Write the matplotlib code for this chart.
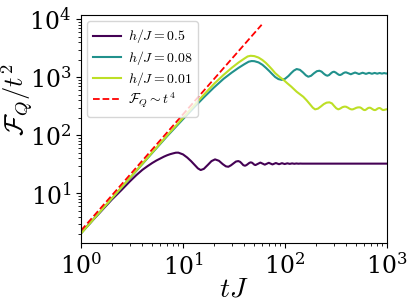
import matplotlib
matplotlib.use("Agg")
import matplotlib.pyplot as plt

plt.rcParams['mathtext.fontset'] = 'cm'
plt.rcParams['font.family'] = ['DejaVu Serif']

labels = ["$h/J=0.5$", "$h/J=0.08$", "$h/J=0.01$"]
red_label = r"$\mathcal{F}_Q\sim t^4$"

# h/J = 0.5 (purple)
t_a = [1, 1.3, 1.6, 2, 2.5, 3, 3.5, 4, 4.5, 5, 5.5, 6, 6.5, 7, 7.5, 8, 8.5, 9, 10,
       11, 12, 13, 14, 14.9, 16, 17.5, 19, 20.6, 22.5, 24.5, 26.3, 27.8, 29.5, 31.3, 33,
       34.8, 36.3, 37.7, 39, 40.5, 41.9, 43.3, 44.7, 46.1, 47.5, 48.8, 50, 51.3, 54.3,
       57.3, 60.3, 63.3, 66.3, 69.3, 72.3, 75.3, 78.3, 81.3, 84.3, 87.3, 90.3, 93.3, 96.3,
       99.3, 105.3, 111.3, 117.3, 123.3, 129.3, 135.3, 141.3, 147, 1000]
v_a = [2.08, 3.45, 5.1, 7.8, 11.5, 16, 20.8, 25.5, 29.6, 33.5, 37, 40, 43, 45.5, 47.5, 49, 50.3, 50.4, 47,
       41.5, 36, 31, 27, 25.3, 26.5, 31, 36, 38.6, 36.5, 32, 29.3, 28.8, 30.5, 33, 35.4,
       36.1, 35, 32.8, 30.7, 30.0, 30.8, 32.2, 33.6, 34.3, 33.8, 32.5, 31.3, 30.8, 32.4,
       34.0, 32.6, 31.3, 32.5, 33.7, 32.6, 31.6, 32.5, 33.4, 32.6, 31.9, 32.5, 33.2, 32.6,
       32.1, 33.0, 32.3, 32.9, 32.4, 32.8, 32.5, 32.7, 32.6, 32.6]

# h/J = 0.08 (teal)
t_b = [1, 2, 3, 5, 7, 10, 13, 16, 20, 25, 30, 35, 40, 44, 47, 50, 55, 60, 65, 70, 75,
       80, 86, 93, 100, 108, 115, 122, 130, 140, 150, 160, 169, 180, 192, 205, 217, 228,
       240, 250, 260, 270, 282, 292, 302, 314, 325, 336, 346, 359, 371, 384, 396, 418,
       441, 463, 486, 508, 531, 553, 576, 598, 621, 666, 711, 756, 801, 846, 891, 936,
       981, 1000]
v_b = [2.05, 8.1, 18.2, 50, 97, 190, 310, 450, 660, 940, 1200, 1450, 1680, 1850, 1900, 1890,
       1800, 1640, 1450, 1280, 1130, 1010, 930, 900, 940, 1050, 1180, 1300, 1384, 1340, 1210,
       1080, 1020, 1060, 1170, 1270, 1294, 1250, 1150, 1090, 1062, 1090, 1170, 1225, 1244,
       1205, 1150, 1105, 1091, 1120, 1170, 1205, 1214, 1170, 1125, 1165, 1205, 1170, 1135,
       1165, 1195, 1170, 1142, 1190, 1148, 1186, 1152, 1183, 1155, 1180, 1158, 1163]

# h/J = 0.01 (yellow-green)
t_c = [1, 2, 3, 5, 7, 10, 13, 16, 20, 25, 30, 35, 40, 43, 46, 50, 55, 60, 65, 70, 75,
       80, 88, 96, 105, 115, 130, 140, 151, 163, 175, 187, 197, 210, 225, 240, 255, 272,
       288, 303, 318, 333, 349, 365, 381, 396, 413, 430, 446, 461, 480, 500, 520, 543,
       560, 577, 592, 608, 627, 645, 663, 681, 700, 720, 742, 763, 785, 805, 828, 850,
       870, 890, 910, 930, 965, 1000]
v_c = [2.05, 8.2, 18.4, 51, 100, 200, 335, 500, 760, 1100, 1450, 1790, 2100, 2280, 2340, 2310,
       2180, 1980, 1760, 1540, 1350, 1180, 1020, 910, 790, 690, 563, 510, 461, 400, 345, 300,
       280, 288, 315, 345, 365, 370, 355, 320, 292, 280, 290, 305, 312, 311, 300, 287, 280,
       280, 288, 298, 303, 303, 295, 282, 274, 272, 280, 292, 298, 299, 292, 282, 274, 272,
       278, 288, 294, 295, 288, 279, 273, 273, 278, 282]

# reference scaling F_Q ~ t^4  (F_Q/t^2 ~ t^2)
t_r = [1, 59]
v_r = [2.3, 8000]

colors = [plt.cm.viridis(0.0), plt.cm.viridis(0.5), plt.cm.viridis(0.9)]

fig = plt.figure(figsize=(4.07, 3.05), dpi=100)
ax = fig.add_axes([0.199, 0.203, 0.752, 0.748])

for t, v, c, lab in zip([t_a, t_b, t_c], [v_a, v_b, v_c], colors, labels):
    ax.plot(t, v, color=c, lw=1.5, label=lab)
ax.plot(t_r, v_r, 'r--', lw=1.3, label=red_label)

ax.set_xscale('log')
ax.set_yscale('log')
ax.set_xlim(1, 1000)
ax.set_ylim(1.4, 1.18e4)

ax.tick_params(axis='both', which='major', labelsize=17, length=3.5)
ax.tick_params(axis='both', which='minor', length=2)
ax.set_xlabel(r"$tJ$", fontsize=20, labelpad=-3)
ax.set_ylabel(r"$\mathcal{F}_Q/t^2$", fontsize=19)
ax.yaxis.set_label_coords(-0.15, 0.63)

ax.legend(loc='upper left', fontsize=10, handlelength=2.0, handletextpad=0.45,
          labelspacing=0.22, borderpad=0.45, borderaxespad=0.45)

fig.savefig("out.png", dpi=100)
